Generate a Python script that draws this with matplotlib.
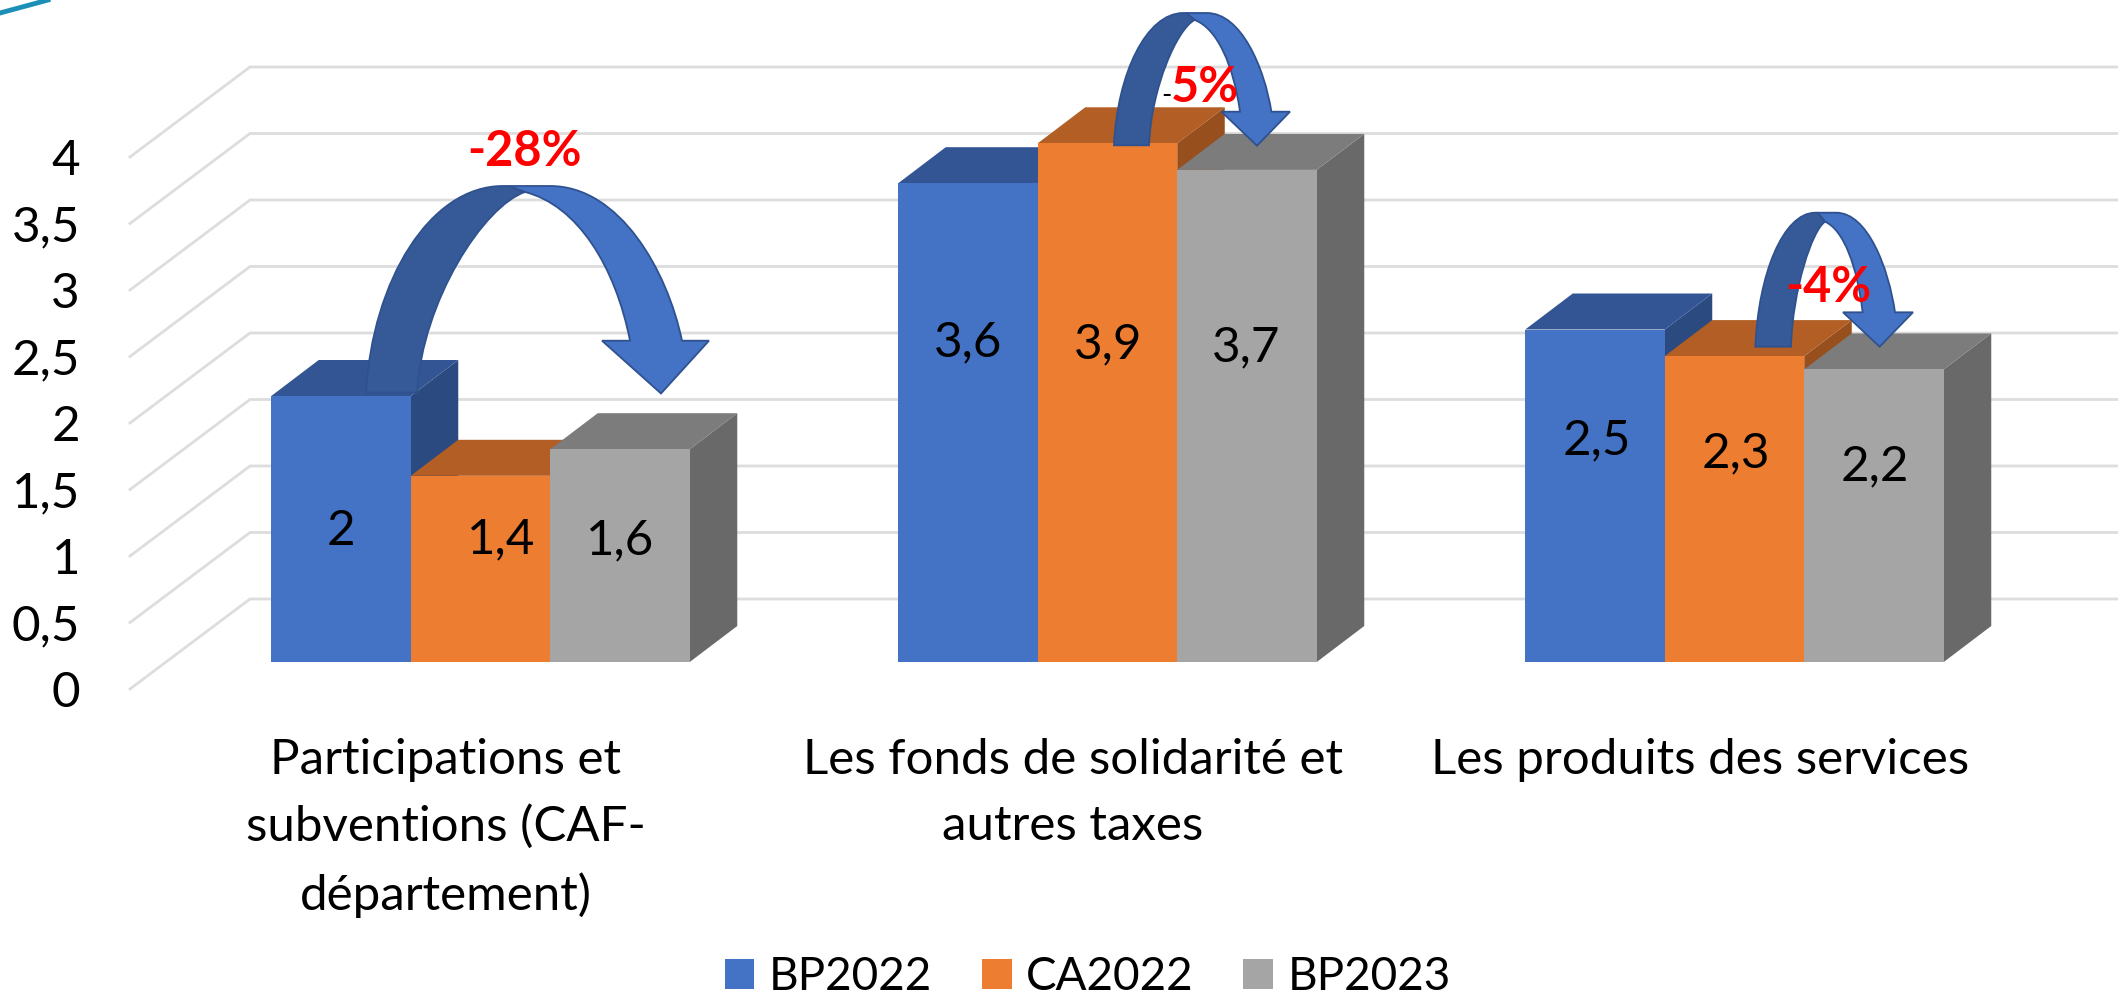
import matplotlib
matplotlib.use("Agg")
import matplotlib.pyplot as plt
from matplotlib.patches import Polygon, PathPatch, Patch
from matplotlib.path import Path

plt.rcParams['font.family'] = ['Lato', 'DejaVu Sans']

# ---------- data ----------
categories = ["Participations et\nsubventions (CAF-\ndépartement)",
              "Les fonds de solidarité et\nautres taxes",
              "Les produits des services"]
series_names = ["BP2022", "CA2022", "BP2023"]
bp2022 = [2.0, 3.6, 2.5]
ca2022 = [1.4, 3.9, 2.3]
bp2023 = [1.6, 3.7, 2.2]
y_ticks = [0, 0.5, 1, 1.5, 2, 2.5, 3, 3.5, 4]
y_tick_labels = ["0", "0,5", "1", "1,5", "2", "2,5", "3", "3,5", "4"]
value_labels = [["2", "3,6", "2,5"], ["1,4", "3,9", "2,3"], ["1,6", "3,7", "2,2"]]

# ---------- style / layout (pixel geometry of the reference) ----------
W, H = 2118, 1000
PX_X, PX_Y = 627.0, 133.0          # pixels per category / per unit
X0, Y0 = 446.0, 689.0              # pixel of category 0 / value 0 on the front plane
front_col = ["#4472C4", "#ED7D31", "#A5A5A5"]
top_col = ["#335593", "#B25E24", "#7C7C7C"]
side_col = ["#2B4A80", "#984F1E", "#696969"]
bar_w = 139.5 / PX_X
bar_dx, bar_dy = 34.5 / PX_X, 27 / PX_Y     # bars stand inside the floor
depth_x, depth_y = 47.5 / PX_X, 36 / PX_Y   # bar depth
wall_dx, wall_dy = 120 / PX_X, 90 / PX_Y    # front plane to back wall
FS = 35.5


def xd(px):
    return (px - X0) / PX_X


def yd(py):
    return (Y0 - py) / PX_Y


fig = plt.figure(figsize=(W / 100, H / 100), dpi=100, facecolor="white")
ax = fig.add_axes([130 / W, 1 - Y0 / H, 1 - 130 / W, Y0 / H])
ax.set_xlim(xd(130), xd(W))
ax.set_ylim(0, yd(0))
for s in ax.spines.values():
    s.set_visible(False)
ax.set_facecolor("none")

# gridlines: floor/wall bend
for v in y_ticks:
    ax.plot([xd(130), xd(130) + wall_dx, xd(W)], [v, v + wall_dy, v + wall_dy],
            color="#DDDDDD", lw=2.0, zorder=1, clip_on=False, solid_joinstyle="miter")

# 3D bars
values = [bp2022, ca2022, bp2023]
for g in range(len(categories)):
    for s, vals in enumerate(values):
        x0 = g + bar_dx + (s - 1.5) * bar_w
        x1 = x0 + bar_w
        b = bar_dy
        t = vals[g] + bar_dy
        z = 3 + g + s * 0.1
        ax.add_patch(Polygon([(x1, b), (x1 + depth_x, b + depth_y), (x1 + depth_x, t + depth_y), (x1, t)],
                             closed=True, fc=side_col[s], ec="none", zorder=z, clip_on=False))
        ax.add_patch(Polygon([(x0, t), (x0 + depth_x, t + depth_y), (x1 + depth_x, t + depth_y), (x1, t)],
                             closed=True, fc=top_col[s], ec="none", zorder=z, clip_on=False))
        ax.bar(x0, vals[g], width=bar_w, bottom=b, align="edge", color=front_col[s], zorder=z, clip_on=False)

# value labels (hand-placed in the reference)
label_px = [[(341, 531), (968, 342), (1597, 440)],
            [(501, 539), (1108, 344), (1736, 453)],
            [(620, 540), (1246, 347), (1875, 466)]]
for s in range(3):
    for g in range(3):
        px, py = label_px[s][g]
        ax.text(xd(px), yd(py), value_labels[s][g], ha="center", va="center",
                fontsize=FS, color="black", zorder=20)


def curved_arrow(xl, xf, apx, apy, top, bottom, head_y, xr, xri, hl, hr, tip, tip_y):
    wl, hh = apx - xl, bottom - top
    xtl = apx - 0.14 * wl
    wr = xr - apx
    xtr = apx + 0.16 * wr
    light = [(apx, apy), (xtl + 0.25 * (apx - xtl), top), (xtr, top),
             (xtr + 0.53 * (xr - xtr), top), (xr - 0.11 * (xr - xtr), head_y - 0.45 * (head_y - top)), (xr, head_y),
             (hr, head_y), (tip, tip_y), (hl, head_y), (xri, head_y),
             (xri - 0.14 * (xri - apx), head_y - 0.5 * (head_y - apy)), (apx + 0.5 * (xri - apx), apy + 0.09 * (head_y - apy)), (apx, apy)]
    lc = [Path.MOVETO, Path.LINETO, Path.LINETO, Path.CURVE4, Path.CURVE4, Path.CURVE4,
          Path.LINETO, Path.LINETO, Path.LINETO, Path.LINETO, Path.CURVE4, Path.CURVE4, Path.CURVE4]
    dark = [(xl, bottom), (xl + 0.04 * wl, bottom - 0.54 * hh), (xl + 0.4 * wl, top), (xtl, top),
            (xtl + 0.25 * (apx - xtl), top), (apx, apy),
            (apx - 0.38 * (apx - xf), apy + 0.07 * (bottom - apy)), (xf + 0.05 * (apx - xf), bottom - 0.46 * (bottom - apy)), (xf, bottom),
            (xl, bottom)]
    dc = [Path.MOVETO, Path.CURVE4, Path.CURVE4, Path.CURVE4, Path.LINETO, Path.LINETO,
          Path.CURVE4, Path.CURVE4, Path.CURVE4, Path.CLOSEPOLY]
    for pts, codes, col in ((light, lc, "#4472C4"), (dark, dc, "#365A98")):
        ax.add_patch(PathPatch(Path([(xd(a), yd(b)) for a, b in pts], codes), fc=col, ec="#2F528F",
                               lw=1.3, zorder=12, clip_on=False))


curved_arrow(366, 417, 525, 192, 186, 392.5, 340.7, 682, 630, 602, 709, 661, 393.5)
curved_arrow(1114, 1149, 1194.6, 20, 13, 145.3, 111.7, 1271.4, 1240, 1221.4, 1290, 1257, 145.7)
curved_arrow(1755.4, 1791, 1825, 221.7, 212.7, 346.7, 312.3, 1895, 1862.6, 1843, 1913, 1879.6, 346.7)

# percentage annotations
ax.text(xd(524), yd(151), "-28%", color="#FF0000", fontsize=35, fontweight="bold", ha="center", va="center", zorder=25)
ax.text(xd(1204.5), yd(87), "5%", color="#FF0000", fontsize=35, fontweight="bold", ha="center", va="center", zorder=25)
ax.text(xd(1166), yd(96), "-", color="black", fontsize=20, ha="center", va="center", zorder=25)
ax.text(xd(1828), yd(288), "-4%", color="#FF0000", fontsize=35, fontweight="bold", ha="center", va="center", zorder=25)

# axes text
ax.set_yticks(y_ticks, y_tick_labels)
ax.set_xticks(range(len(categories)), categories)
ax.tick_params(axis="both", length=0, labelsize=FS, labelcolor="black")
ax.tick_params(axis="y", pad=36)
ax.tick_params(axis="x", pad=35)
for lab in ax.get_xticklabels():
    lab.set_linespacing(1.61)
    lab.set_multialignment("center")

# decoration at the top-left corner of the slide
fig.add_artist(plt.Line2D([0, 48 / W], [1 - 13 / H, 1], color="#1C8FB8", lw=3.5))

# legend
handles = [Patch(fc=c, ec="none") for c in front_col]
fig.legend(handles, series_names, ncol=3, loc="center", bbox_to_anchor=(1088 / W, 1 - 977 / H),
           frameon=False, fontsize=33, handlelength=0.65, handleheight=0.65,
           handletextpad=0.32, columnspacing=1.08, borderpad=0, borderaxespad=0)

fig.savefig("out.png", dpi=100, facecolor="white")
